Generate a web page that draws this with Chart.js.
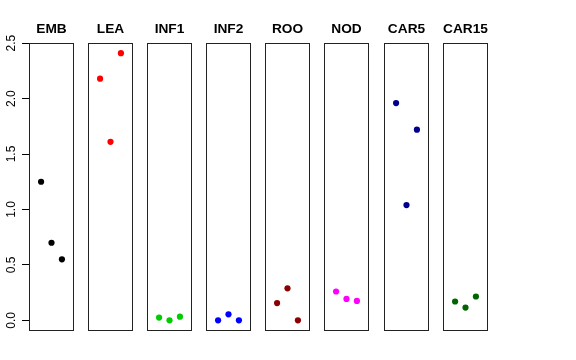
<!DOCTYPE html>
<html>
<head>
<meta charset="utf-8">
<script src="https://cdn.jsdelivr.net/npm/chart.js@4/dist/chart.umd.min.js"></script>
<style>
  html, body { margin: 0; padding: 0; background: #ffffff; }
  #wrap { position: relative; width: 576px; height: 360px; background: #ffffff; overflow: hidden; }
  .cell { position: absolute; top: 0; height: 360px; }
</style>
</head>
<body>
<div id="wrap"></div>
<script>
// ---- data ----
const panels = ["EMB", "LEA", "INF1", "INF2", "ROO", "NOD", "CAR5", "CAR15"];
const xPositions = [1, 2, 3];
const EMB   = [1.25, 0.70, 0.55];
const LEA   = [2.18, 1.61, 2.41];
const INF1  = [0.025, 0.0, 0.033];
const INF2  = [0.0, 0.054, 0.0];
const ROO   = [0.156, 0.289, 0.0];
const NOD   = [0.260, 0.193, 0.175];
const CAR5  = [1.96, 1.04, 1.72];
const CAR15 = [0.170, 0.115, 0.215];
const seriesValues = [EMB, LEA, INF1, INF2, ROO, NOD, CAR5, CAR15];
const pointColors = ["#000000", "#FF0000", "#00CD00", "#0000FF", "#8B0000", "#FF00FF", "#00008B", "#006400"];
const yTickValues = [0, 0.5, 1.0, 1.5, 2.0, 2.5];
const yTickLabels = ["0.0", "0.5", "1.0", "1.5", "2.0", "2.5"];

// ---- layout ----
const panelLefts = [29, 88, 147, 206, 265, 324, 384, 443];
const panelWidth = 45;
const axisWidth = 29;
const sidePad = 7;

const boxPlugin = {
  id: 'panelBox',
  afterDraw(chart) {
    const a = chart.chartArea;
    const ctx = chart.ctx;
    ctx.save();
    ctx.strokeStyle = '#222222';
    ctx.lineWidth = 1;
    ctx.strokeRect(Math.round(a.left) + 0.5, Math.round(a.top) + 0.5,
                   Math.round(a.right - a.left) - 1, Math.round(a.bottom - a.top) - 1);
    ctx.restore();
  }
};

const wrap = document.getElementById('wrap');

panels.forEach((name, i) => {
  const first = i === 0;
  const cell = document.createElement('div');
  cell.className = 'cell';
  const left = first ? 0 : panelLefts[i] - sidePad;
  const width = first ? axisWidth + panelWidth + sidePad : panelWidth + 2 * sidePad;
  cell.style.left = left + 'px';
  cell.style.width = width + 'px';
  cell.style.zIndex = String(i + 1);
  const canvas = document.createElement('canvas');
  cell.appendChild(canvas);
  wrap.appendChild(cell);

  new Chart(canvas, {
    type: 'scatter',
    data: {
      datasets: [{
        label: name,
        data: xPositions.map((x, k) => ({ x: x, y: seriesValues[i][k] })),
        backgroundColor: pointColors[i],
        borderColor: pointColors[i],
        pointRadius: 3.1,
        pointBorderWidth: 0,
        pointHoverRadius: 3.1
      }]
    },
    options: {
      responsive: true,
      maintainAspectRatio: false,
      animation: false,
      events: [],
      devicePixelRatio: 1,
      layout: {
        padding: { top: 21, bottom: 29, left: first ? 0 : sidePad, right: sidePad }
      },
      plugins: {
        legend: { display: false },
        tooltip: { enabled: false },
        title: {
          display: true,
          fullSize: false,
          text: name,
          color: '#000000',
          font: { family: 'Liberation Sans, Arial, sans-serif', size: 13.7, weight: 'bold', lineHeight: 16 / 13.7 },
          padding: { top: 0, bottom: 6 }
        }
      },
      scales: {
        x: {
          type: 'linear',
          min: -0.16,
          max: 4.16,
          display: false
        },
        y: {
          type: 'linear',
          min: -0.0962,
          max: 2.5015,
          display: first,
          position: 'left',
          afterBuildTicks(scale) {
            scale.ticks = yTickValues.map(v => ({ value: v }));
          },
          afterFit(scale) {
            if (first) scale.width = axisWidth;
          },
          grid: {
            display: true,
            drawOnChartArea: false,
            drawTicks: true,
            tickLength: 7,
            tickColor: '#000000',
            tickWidth: 1
          },
          border: { display: false },
          ticks: {
            color: '#000000',
            font: { family: 'Liberation Sans, Arial, sans-serif', size: 12 },
            padding: 2,
            minRotation: 90,
            maxRotation: 90,
            crossAlign: 'center',
            autoSkip: false,
            callback: (value) => {
              const idx = yTickValues.indexOf(value);
              return idx >= 0 ? yTickLabels[idx] : '';
            }
          }
        }
      }
    },
    plugins: [boxPlugin]
  });
});
</script>
</body>
</html>
